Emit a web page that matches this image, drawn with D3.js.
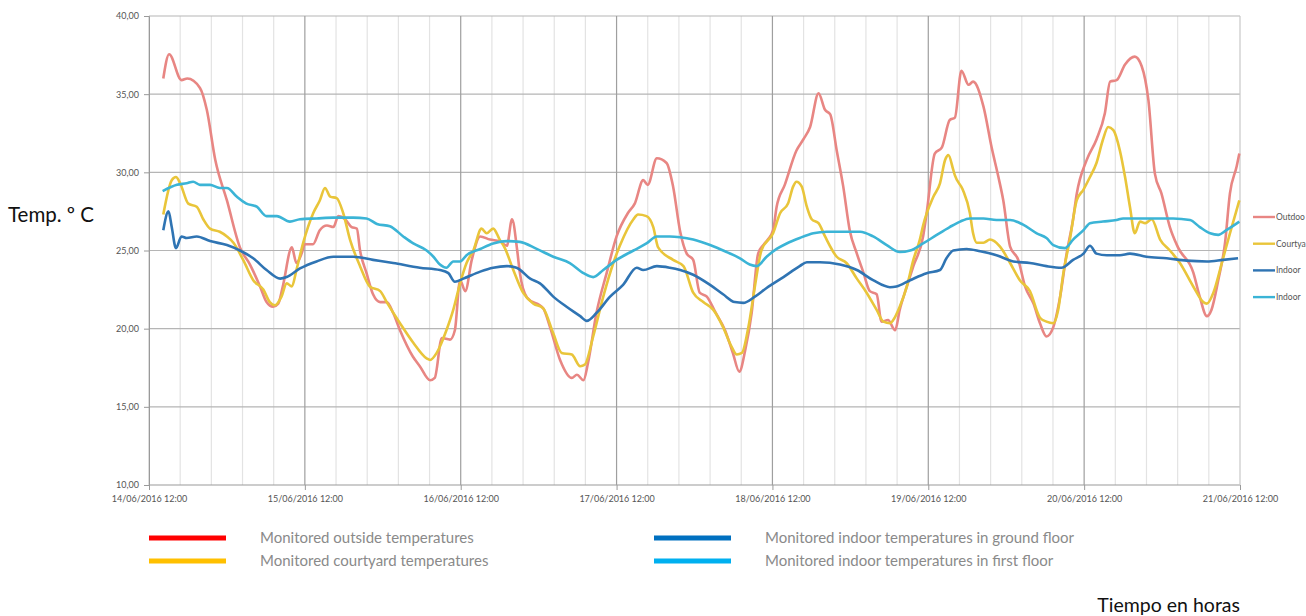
<!DOCTYPE html>
<html>
<head>
<meta charset="utf-8">
<script src="https://cdn.jsdelivr.net/npm/d3@7"></script>
<style>
  html, body { margin: 0; padding: 0; background: #fff; overflow: hidden; }
  svg { display: block; }
</style>
</head>
<body>
<svg id="chart" width="1306" height="616"></svg>
<script>
// Hours elapsed since 14/06/2016 12:00, with the temperature (ºC) read at each moment.
const dayLabels = ["14/06/2016 12:00", "15/06/2016 12:00", "16/06/2016 12:00", "17/06/2016 12:00",
                   "18/06/2016 12:00", "19/06/2016 12:00", "20/06/2016 12:00", "21/06/2016 12:00"];
const yTicks = [10, 15, 20, 25, 30, 35, 40];

const outdoorHours = [2.2,3.1,5.0,5.9,7.85,8.9,10.2,12.0,14.0,15.55,17.1,18.1,19.1,19.9,20.6,22.0,22.7,23.5,24.0,25.25,26.3,27.4,28.4,29.15,30.2,31.2,32.0,32.5,33.5,34.5,35.6,36.6,37.6,38.65,40.65,41.7,43.3,44.0,45.1,46.35,47.1,47.9,48.7,49.7,51.0,52.5,54.0,55.1,55.9,56.7,57.1,58.2,60.7,61.75,63.3,65.1,65.9,66.9,67.6,68.9,70.5,72.0,73.75,74.8,76.1,76.8,78.2,79.7,80.7,81.8,82.8,83.8,84.8,85.9,87.15,88.7,89.9,90.9,91.8,92.8,93.8,94.6,95.3,96.1,96.65,97.9,99.7,100.75,101.8,103.1,104.1,104.9,105.9,106.9,107.9,109.0,110.0,111.0,112.05,112.8,113.8,114.9,115.6,116.7,117.7,119.2,119.75,121.0,122.1,123.3,124.1,125.1,126.2,126.9,128.5,129.75,130.8,131.55,132.6,133.85,134.9,136.2,137.2,138.2,139.25,140.3,141.3,142.3,142.85,144.4,145.9,147.2,148.0,149.0,150.3,151.8,152.85,153.9,154.9,155.9,157.2,158.45,160.8,161.8,162.9,163.6,164.65,165.7,166.45,167.5,167.9];
const outdoorTemps = [36.0,37.55,35.9,36.0,35.4,34.0,30.8,28.2,25.2,24.1,22.7,21.7,21.4,21.6,22.7,25.2,24.2,24.8,25.4,25.4,26.3,26.6,26.5,27.2,27.0,26.5,26.4,25.0,23.55,22.2,21.7,21.7,21.0,19.9,18.2,17.6,16.7,16.85,19.4,19.3,19.9,23.1,22.4,24.4,25.9,25.7,25.6,25.3,27.0,25.0,23.6,22.0,21.3,20.1,18.0,16.85,17.05,16.7,17.8,21.0,23.6,25.9,27.4,28.0,29.5,29.2,30.9,30.6,29.1,26.2,24.8,24.4,22.3,22.05,21.1,19.9,18.45,17.25,18.6,21.0,24.8,25.35,25.7,26.3,27.8,29.2,31.4,32.1,32.9,35.05,34.0,33.7,31.4,29.1,26.3,24.8,23.6,22.4,22.2,20.45,20.55,19.9,21.2,22.7,24.0,25.9,27.4,31.2,31.6,33.35,33.5,36.5,35.6,35.8,34.2,31.6,29.7,28.2,25.25,24.4,22.7,21.6,20.35,19.5,20.1,22.05,24.8,27.0,28.6,30.8,32.1,33.8,35.8,35.9,36.9,37.4,36.8,34.6,29.9,28.65,26.5,25.2,23.6,22.05,20.8,21.2,23.1,25.5,28.65,30.4,31.2];

const courtyardHours = [2.2,3.5,4.15,4.8,6.05,7.35,8.35,9.4,10.9,12.0,13.0,14.5,16.05,17.6,18.6,19.4,20.4,21.2,22.0,22.7,23.75,25.3,26.3,27.1,27.9,28.9,29.9,30.95,32.5,34.0,35.6,36.6,38.65,40.7,42.75,43.3,44.3,45.8,46.85,47.9,48.9,49.95,51.2,52.0,53.0,54.0,54.8,56.1,57.6,59.2,60.7,62.25,63.55,65.1,66.4,67.1,68.4,69.95,71.5,72.5,74.6,75.3,76.6,77.65,78.4,80.7,82.3,83.8,85.35,86.9,88.4,89.7,90.5,91.3,92.3,93.3,94.3,96.1,97.2,98.4,99.2,99.7,100.5,101.3,102.05,103.1,104.1,105.9,107.4,109.0,110.5,112.05,113.1,114.1,114.6,115.6,116.7,117.7,118.7,119.2,120.8,121.8,122.6,123.1,123.85,124.1,125.3,126.4,126.9,127.45,128.5,129.5,131.05,132.6,134.1,135.65,137.2,138.2,139.25,140.0,140.8,141.8,142.85,143.9,144.9,145.9,146.9,147.7,148.5,149.5,150.3,151.05,151.8,152.6,153.4,154.4,155.7,157.2,158.75,160.8,162.35,162.9,163.9,165.2,166.45,167.9];
const courtyardTemps = [27.3,29.5,29.7,29.3,28.0,27.8,27.0,26.4,26.2,25.9,25.5,24.4,23.1,22.5,21.7,21.5,22.05,22.9,22.7,23.75,25.5,27.4,28.2,29.0,28.45,28.35,27.4,25.7,24.0,22.7,22.4,21.7,20.35,19.1,18.1,18.0,18.45,19.9,21.2,22.9,24.2,25.0,26.4,26.1,26.4,25.7,25.15,23.75,22.3,21.6,21.3,19.7,18.45,18.35,17.6,17.7,19.5,22.05,24.2,25.3,27.0,27.3,27.2,26.5,25.2,24.4,24.0,22.3,21.7,21.2,20.1,18.85,18.35,18.45,20.1,22.7,25.0,26.1,27.4,28.0,29.1,29.4,29.1,27.8,27.0,26.75,25.9,24.6,24.2,23.2,22.3,21.2,20.45,20.35,20.55,21.4,22.7,24.4,25.7,26.6,28.45,29.3,30.8,31.1,30.15,29.8,28.9,27.4,26.1,25.5,25.5,25.7,25.25,24.2,23.1,22.4,20.7,20.45,20.35,21.2,23.55,25.7,28.2,28.9,29.7,30.6,32.1,32.9,32.7,31.4,29.7,27.8,26.1,26.85,26.75,27.0,25.7,25.0,24.2,22.7,21.7,21.6,22.3,24.2,26.1,28.2];

const groundHours = [2.2,3.0,3.5,4.15,5.0,5.8,7.35,9.4,12.0,14.0,16.05,18.1,20.2,21.2,23.25,25.8,28.4,31.45,34.5,37.6,41.7,44.8,46.1,47.1,48.4,51.0,53.0,55.1,56.6,58.7,60.2,62.25,64.3,66.4,67.4,68.9,71.0,73.0,75.1,76.1,78.2,80.2,81.8,83.8,86.4,88.4,90.2,91.5,93.3,95.1,97.7,100.2,101.3,103.3,106.4,109.0,111.5,114.1,115.1,117.2,119.75,121.8,122.8,123.85,125.9,128.0,130.5,133.1,135.65,138.2,140.5,142.3,143.9,144.9,145.9,147.5,149.5,151.05,153.6,156.7,159.8,162.9,165.4,167.7];
const groundTemps = [26.3,27.5,26.5,25.15,25.9,25.8,25.9,25.6,25.35,25.0,24.5,23.75,23.2,23.3,23.85,24.3,24.6,24.6,24.4,24.2,23.9,23.75,23.55,23.0,23.2,23.65,23.9,24.0,23.9,23.2,22.9,22.05,21.4,20.8,20.5,21.0,22.05,22.8,23.9,23.75,24.0,23.9,23.75,23.45,22.8,22.2,21.7,21.65,22.05,22.6,23.3,24.0,24.25,24.25,24.1,23.75,23.1,22.65,22.7,23.1,23.55,23.75,24.5,25.0,25.1,24.95,24.7,24.3,24.2,24.0,23.9,24.4,24.8,25.3,24.8,24.7,24.7,24.8,24.6,24.5,24.35,24.3,24.4,24.5];

const firstHours = [2.1,4.3,5.8,6.8,7.85,9.4,10.9,12.0,13.5,15.0,16.6,18.1,19.7,21.7,23.25,25.8,28.4,31.45,33.5,35.1,37.1,39.15,40.7,42.75,43.8,44.8,45.8,46.85,47.9,48.9,51.0,53.0,55.1,57.1,59.7,62.25,64.8,66.9,68.4,69.95,72.0,74.6,76.6,78.2,80.2,81.8,83.8,86.4,88.95,91.0,92.5,93.6,95.1,96.65,98.2,100.2,102.3,104.35,106.9,109.5,111.5,113.6,115.6,117.2,119.2,121.3,123.3,124.9,126.4,128.5,130.5,132.6,134.6,136.7,138.2,139.25,141.05,142.3,143.9,144.9,146.9,149.0,150.0,154.6,157.7,160.3,161.8,163.4,164.65,165.9,167.9];
const firstTemps = [28.8,29.2,29.3,29.4,29.2,29.2,29.0,29.0,28.45,28.0,27.8,27.2,27.2,26.85,27.0,27.05,27.1,27.1,27.05,26.7,26.55,25.9,25.45,25.0,24.6,24.1,23.9,24.3,24.3,24.7,25.1,25.45,25.6,25.55,25.1,24.6,24.2,23.55,23.3,23.75,24.4,25.0,25.45,25.9,25.9,25.85,25.7,25.35,24.9,24.5,24.1,24.0,24.6,25.1,25.45,25.8,26.1,26.2,26.2,26.2,25.9,25.35,24.9,25.0,25.45,26.0,26.5,26.85,27.05,27.05,26.95,26.95,26.65,26.1,25.8,25.35,25.15,25.7,26.3,26.75,26.85,26.95,27.05,27.05,27.05,26.95,26.5,26.1,26.0,26.3,26.85];

// the side key only has room for the start of each series name
const sideLabels = ["Outdoo", "Courtya", "Indoor", "Indoor"];

const series = [
  { hours: outdoorHours,   temps: outdoorTemps,   color: "#e88683" },
  { hours: courtyardHours, temps: courtyardTemps, color: "#e9c53a" },
  { hours: groundHours,    temps: groundTemps,    color: "#2f74b3" },
  { hours: firstHours,     temps: firstTemps,     color: "#3bb4d6" }
];

const bottomLegend = [
  { label: "Monitored outside temperatures",              color: "#ff0000" },
  { label: "Monitored courtyard temperatures",            color: "#ffc000" },
  { label: "Monitored indoor temperatures in ground floor", color: "#0070c0" },
  { label: "Monitored indoor temperatures in first floor",  color: "#00b0f0" }
];

const font = "Lato, 'Open Sans', sans-serif";
const svg = d3.select("#chart");
const plot = { left: 149, right: 1240, top: 16, bottom: 485 };

const x = d3.scaleLinear().domain([0, 168]).range([plot.left, plot.right]);
const y = d3.scaleLinear().domain([10, 40]).range([plot.bottom, plot.top]);

// minor vertical grid: five divisions per day
const minorTicks = d3.range(0, 168.01, 24 / 5).filter(h => Math.abs(h / 24 - Math.round(h / 24)) > 1e-6);
svg.append("g").selectAll("line").data(minorTicks).join("line")
  .attr("x1", d => x(d)).attr("x2", d => x(d))
  .attr("y1", plot.top).attr("y2", plot.bottom)
  .attr("stroke", "#e3e3e3").attr("stroke-width", 1.2);

// horizontal grid
svg.append("g").selectAll("line").data(yTicks).join("line")
  .attr("x1", plot.left).attr("x2", plot.right)
  .attr("y1", d => y(d)).attr("y2", d => y(d))
  .attr("stroke", d => d === 10 ? "#9a9a9a" : "#b5b5b5").attr("stroke-width", 1.2);

// daily vertical grid
const dayTicks = dayLabels.map((_, i) => i * 24);
svg.append("g").selectAll("line").data(dayTicks).join("line")
  .attr("x1", d => x(d)).attr("x2", d => x(d))
  .attr("y1", plot.top).attr("y2", plot.bottom)
  .attr("stroke", d => (d === 0 || d === 168) ? "#c8c8c8" : "#9f9f9f").attr("stroke-width", 1.2);

// y axis
const yAxis = d3.axisLeft(y).tickValues(yTicks).tickSize(5).tickPadding(5)
  .tickFormat(d => d3.format(".2f")(d).replace(".", ","));
const gy = svg.append("g").attr("transform", `translate(${plot.left},0)`).call(yAxis);
gy.select(".domain").attr("stroke", "#9a9a9a");
gy.selectAll(".tick line").attr("stroke", "#9a9a9a");
gy.selectAll(".tick text").attr("fill", "#555").style("font-family", font).style("font-size", "9px");

// x axis
const xAxis = d3.axisBottom(x).tickValues(dayTicks).tickSize(5).tickPadding(6)
  .tickFormat((d, i) => dayLabels[i]);
const gx = svg.append("g").attr("transform", `translate(0,${plot.bottom})`).call(xAxis);
gx.select(".domain").remove();
gx.selectAll(".tick line").attr("stroke", "#9a9a9a");
gx.selectAll(".tick text").attr("fill", "#555").style("font-family", font).style("font-size", "9px");

// temperature lines
const line = d3.line().x(d => x(d[0])).y(d => y(d[1])).curve(d3.curveMonotoneX);
svg.append("g").selectAll("path").data(series).join("path")
  .attr("d", s => line(s.hours.map((h, i) => [h, s.temps[i]])))
  .attr("fill", "none")
  .attr("stroke", s => s.color)
  .attr("stroke-width", 2.6)
  .attr("stroke-linejoin", "round");

// side key
const side = svg.append("g").attr("transform", "translate(1253,217)");
const sideItems = side.selectAll("g").data(series).join("g")
  .attr("transform", (d, i) => `translate(0,${i * 26.7})`);
sideItems.append("line").attr("x1", 0).attr("x2", 22).attr("y1", 0).attr("y2", 0)
  .attr("stroke", d => d.color).attr("stroke-width", 2.4);
sideItems.append("text").attr("x", 23).attr("y", 0).attr("dy", "0.35em")
  .attr("fill", "#555").style("font-family", font).style("font-size", "8.5px")
  .text((d, i) => sideLabels[i]);

// bottom legend
const blItems = svg.append("g").selectAll("g").data(bottomLegend).join("g")
  .attr("transform", (d, i) => `translate(${i < 2 ? 149 : 654},${i % 2 === 0 ? 538 : 561})`);
blItems.append("line").attr("x1", 0).attr("x2", 77).attr("y1", 0).attr("y2", 0)
  .attr("stroke", d => d.color).attr("stroke-width", 5);
blItems.append("text").attr("x", 111).attr("y", 0).attr("dy", "0.35em")
  .attr("fill", "#8a8a8a").style("font-family", font).style("font-size", "15px")
  .text(d => d.label);

// axis titles
svg.append("text").attr("x", 8).attr("y", 215).attr("dy", "0.35em")
  .style("font-family", font).style("font-size", "20.5px").attr("fill", "#111")
  .text("Temp. º C");
svg.append("text").attr("x", 1240).attr("y", 605).attr("dy", "0.35em").attr("text-anchor", "end")
  .style("font-family", font).style("font-size", "19.5px").attr("fill", "#111")
  .text("Tiempo en horas");
</script>
</body>
</html>
